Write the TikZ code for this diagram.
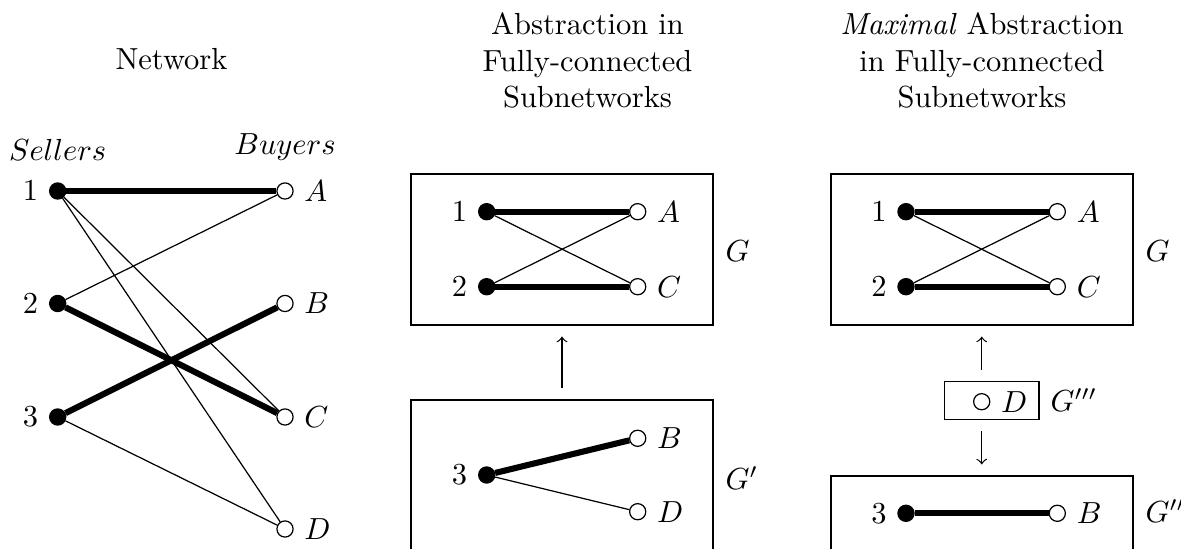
\documentclass[tikz,border=0pt]{standalone}
\usetikzlibrary{calc}
\begin{document}
\begin{tikzpicture}[x=0.3279pt,y=-0.3279pt,
  seller/.style={circle,fill=black,draw=black,line width=0.4pt,inner sep=0pt,minimum size=5.3pt},
  buyer/.style={circle,fill=white,draw=black,line width=0.4pt,inner sep=0pt,minimum size=5.3pt},
  strong/.style={line width=2pt},
  weak/.style={line width=0.4pt},
  frame/.style={draw,line width=0.4pt,inner sep=0pt,minimum width=99pt,minimum height=49.5pt},
  ttl/.style={align=center,inner sep=0pt,anchor=north},
  lbl/.style={inner sep=0pt,anchor=base west},
  flow/.style={->,line width=0.4pt,shorten <=3.6pt,shorten >=3.6pt}]
\clip (0,0) rectangle (1181,549);

% titles
\node[inner sep=0pt,anchor=base] (t1) at (171.5,70) {Network};
\node[ttl] (t2) at (587.5,12) {Abstraction in\\Fully-connected\\Subnetworks};
\node[ttl] (t3) at (982,12) {\textit{Maximal} Abstraction\\in Fully-connected\\Subnetworks};

% panel 1
\node[inner sep=0pt,anchor=base] (hs) at (57.7,161) {$Sellers$};
\node[inner sep=0pt,anchor=base] (hb) at (285,155) {$Buyers$};
\node[seller,label=left:$1$] (s1) at (57.7,191) {};
\node[seller,label=left:$2$] (s2) at (57.7,303.5) {};
\node[seller,label=left:$3$] (s3) at (57.7,417) {};
\node[buyer,label=right:$A$] (bA) at (285,191) {};
\node[buyer,label=right:$B$] (bB) at (285,303.5) {};
\node[buyer,label=right:$C$] (bC) at (285,417) {};
\node[buyer,label=right:$D$] (bD) at (285,529) {};
\draw[strong] (s1) -- (bA);
\draw[weak] (s1) -- (bC);
\draw[weak] (s1) -- (bD);
\draw[weak] (s2) -- (bA);
\draw[strong] (s2) -- (bC);
\draw[strong] (s3) -- (bB);
\draw[weak] (s3) -- (bD);

% panel 2
\node[frame] (G2) at (562,249.5) {};
\node[frame] (G2p) at (562,475.5) {};
\node[seller,label=left:$1$] (m1) at (486.7,211.7) {};
\node[seller,label=left:$2$] (m2) at (486.7,286.7) {};
\node[buyer,label=right:$A$] (mA) at (637.7,211.7) {};
\node[buyer,label=right:$C$] (mC) at (637.7,286.7) {};
\draw[strong] (m1) -- (mA);
\draw[strong] (m2) -- (mC);
\draw[weak] (m1) -- (mC);
\draw[weak] (m2) -- (mA);
\node[seller,label=left:$3$] (m3) at (486.7,475) {};
\node[buyer,label=right:$B$] (mB) at (637.7,438.3) {};
\node[buyer,label=right:$D$] (mD) at (637.7,511.7) {};
\draw[strong] (m3) -- (mB);
\draw[weak] (m3) -- (mD);
\node[lbl] (lG2) at (725,262) {$G$};
\node[lbl] (lG2p) at (725,490) {$G'$};
\draw[flow] (G2p.north) -- (G2.south);

% panel 3
\node[frame] (G3) at (982,249.5) {};
\node[frame] (G3pp) at (982,551.5) {};
\node[draw,line width=0.4pt,inner sep=0pt,minimum width=31.05pt,minimum height=12.3pt] (G3ppp) at (991.7,400.5) {};
\node[seller,label=left:$1$] (r1) at (906,211.7) {};
\node[seller,label=left:$2$] (r2) at (906,286.7) {};
\node[buyer,label=right:$A$] (rA) at (1057.3,211.7) {};
\node[buyer,label=right:$C$] (rC) at (1057.3,286.7) {};
\draw[strong] (r1) -- (rA);
\draw[strong] (r2) -- (rC);
\draw[weak] (r1) -- (rC);
\draw[weak] (r2) -- (rA);
\node[buyer,label=right:$D$] (rD) at (981.7,401.7) {};
\node[seller,label=left:$3$] (r3) at (906,513.3) {};
\node[buyer,label=right:$B$] (rB) at (1057.3,513.3) {};
\draw[strong] (r3) -- (rB);
\node[lbl] (lG3) at (1145,262) {$G$};
\node[lbl] (lG3ppp) at (1050,412) {$G'''$};
\node[lbl] (lG3pp) at (1145,523) {$G''$};
\draw[flow] (rD |- G3ppp.north) -- (rD |- G3.south);
\draw[flow] (rD |- G3ppp.south) -- (rD |- G3pp.north);
\end{tikzpicture}
\end{document}
